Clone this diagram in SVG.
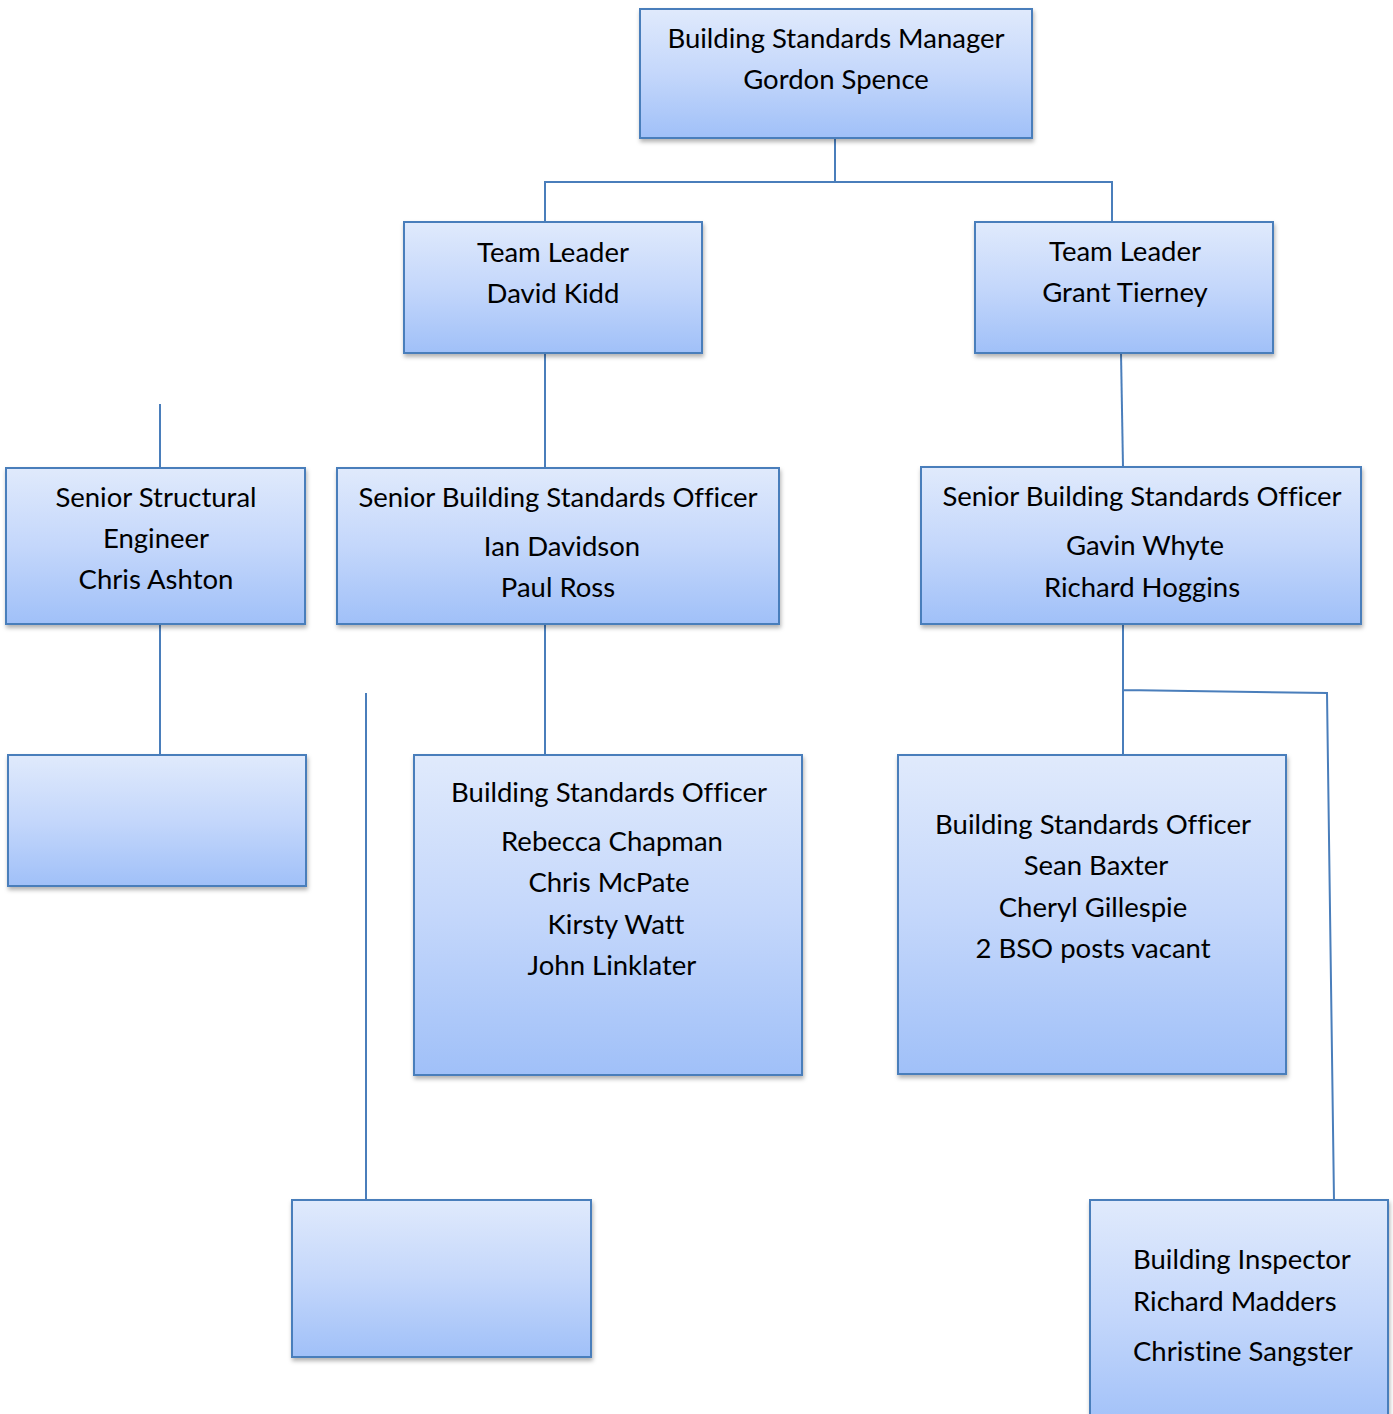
<svg xmlns="http://www.w3.org/2000/svg" width="1393" height="1414" viewBox="0 0 1393 1414">
<defs>
<linearGradient id="g" x1="0" y1="0" x2="0" y2="1">
<stop offset="0" stop-color="#e0eafc"/>
<stop offset="0.5" stop-color="#c4d7fb"/>
<stop offset="1" stop-color="#a0c0f8"/>
</linearGradient>
<filter id="sh" x="-5%" y="-5%" width="115%" height="120%">
<feDropShadow dx="1" dy="3" stdDeviation="2" flood-color="#000" flood-opacity="0.3"/>
</filter>
</defs>
<style>
.box{fill:url(#g);stroke:#4a7ebb;stroke-width:2;filter:url(#sh)}
.t{font-family:Lato,"Open Sans","Liberation Sans",sans-serif;font-size:27.5px;fill:#000;text-anchor:middle;font-variant-ligatures:none}
.l{text-anchor:start}
.c{fill:none;stroke:#4a7ebb;stroke-width:2}
</style>
<g id="connectors">
<path class="c" d="M835,136 V182 M545,222 V182 H1112 V222"/>
<path class="c" d="M545,353 V468"/>
<path class="c" d="M1121,353 L1123,467"/>
<path class="c" d="M160,404 V468"/>
<path class="c" d="M160,624 V755"/>
<path class="c" d="M545,624 V755"/>
<path class="c" d="M366,693 V1200"/>
<path class="c" d="M1123,624 V755 M1123,690 L1327,693 L1334,1200"/>
</g>
<g id="manager">
<rect class="box" x="640" y="9" width="392" height="129"/>
<text class="t" x="836" y="48">Building Standards Manager</text>
<text class="t" x="836" y="89">Gordon Spence</text>
</g>
<g id="tl1">
<rect class="box" x="404" y="222" width="298" height="131"/>
<text class="t" x="553" y="262">Team Leader</text>
<text class="t" x="553" y="303">David Kidd</text>
</g>
<g id="tl2">
<rect class="box" x="975" y="222" width="298" height="131"/>
<text class="t" x="1125" y="261">Team Leader</text>
<text class="t" x="1125" y="302">Grant Tierney</text>
</g>
<g id="sse">
<rect class="box" x="6" y="468" width="299" height="156"/>
<text class="t" x="156" y="507">Senior Structural</text>
<text class="t" x="156" y="548">Engineer</text>
<text class="t" x="156" y="589">Chris Ashton</text>
</g>
<g id="sbso1">
<rect class="box" x="337" y="468" width="442" height="156"/>
<text class="t" x="558" y="507">Senior Building Standards Officer</text>
<text class="t" x="562" y="556">Ian Davidson</text>
<text class="t" x="558" y="597">Paul Ross</text>
</g>
<g id="sbso2">
<rect class="box" x="921" y="467" width="440" height="157"/>
<text class="t" x="1142" y="506">Senior Building Standards Officer</text>
<text class="t" x="1145" y="555">Gavin Whyte</text>
<text class="t" x="1142" y="597">Richard Hoggins</text>
</g>
<g id="empty1">
<rect class="box" x="8" y="755" width="298" height="131"/>
</g>
<g id="bso1">
<rect class="box" x="414" y="755" width="388" height="320"/>
<text class="t" x="609" y="802">Building Standards Officer</text>
<text class="t" x="612" y="851">Rebecca Chapman</text>
<text class="t" x="609" y="892">Chris McPate</text>
<text class="t" x="616" y="934">Kirsty Watt</text>
<text class="t" x="612" y="975">John Linklater</text>
</g>
<g id="bso2">
<rect class="box" x="898" y="755" width="388" height="319"/>
<text class="t" x="1093" y="834">Building Standards Officer</text>
<text class="t" x="1096" y="875">Sean Baxter</text>
<text class="t" x="1093" y="917">Cheryl Gillespie</text>
<text class="t" x="1093" y="958">2 BSO posts vacant</text>
</g>
<g id="empty2">
<rect class="box" x="292" y="1200" width="299" height="157"/>
</g>
<g id="bi">
<rect class="box" x="1090" y="1200" width="298" height="230"/>
<text class="t l" x="1133" y="1269">Building Inspector</text>
<text class="t l" x="1133" y="1311">Richard Madders</text>
<text class="t l" x="1133" y="1361">Christine Sangster</text>
</g>
</svg>
